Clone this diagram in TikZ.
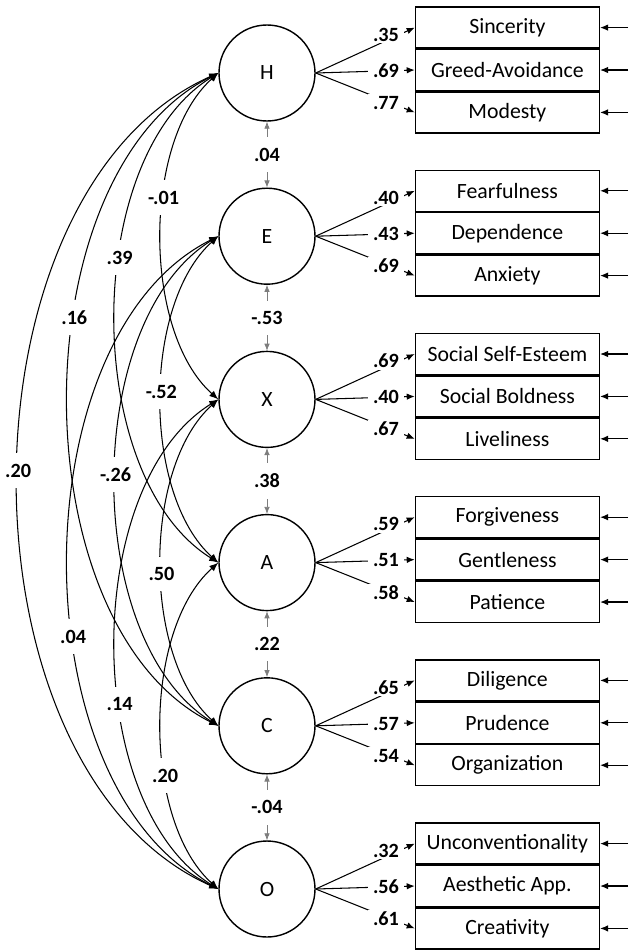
\documentclass[tikz,border=0pt]{standalone}
\usepackage{fontspec}
\setmainfont{Carlito}
\usepackage{tikz}
\usetikzlibrary{arrows.meta,positioning}
\definecolor{fGray}{RGB}{125,125,125}
\tikzset{
factor/.style={circle,draw,thick,minimum size=1.92cm,inner sep=0pt,font=\fontsize{12.4}{14}\selectfont},
facet/.style={rectangle,draw,thick,minimum width=3.68cm,minimum height=0.82cm,inner sep=0pt,font=\fontsize{12.4}{14}\selectfont},
coef/.style={fill=white,text=black,font=\bfseries\fontsize{11.5}{13}\selectfont,inner xsep=1.5pt,inner ysep=6pt},
loading/.style={-{Latex[length=1.6mm,width=1.3mm]},semithick},
resid/.style={-{Latex[length=1.6mm,width=1.3mm]},semithick},
corr/.style={{Latex[length=1.4mm,width=1.1mm]}-{Latex[length=1.4mm,width=1.1mm]},fGray},
cov/.style={{Latex[length=1.8mm,width=1.4mm]}-{Latex[length=1.8mm,width=1.4mm]},semithick}
}
\begin{document}
\begin{tikzpicture}
\useasboundingbox (0,0) rectangle (12.56,-19);
\coordinate (rim) at (12.56,0);
% six factors, each with three facet boxes
\foreach \f/\i/\ta/\tb/\tc/\la/\lb/\lc in {
  H/0/Sincerity/Greed-Avoidance/Modesty/.35/.69/.77,
  E/1/Fearfulness/Dependence/Anxiety/.40/.43/.69,
  X/2/Social Self-Esteem/Social Boldness/Liveliness/.69/.40/.67,
  A/3/Forgiveness/Gentleness/Patience/.59/.51/.58,
  C/4/Diligence/Prudence/Organization/.65/.57/.54,
  O/5/Unconventionality/Aesthetic App./Creativity/.32/.56/.61}{
\node[factor] (\f) at (5.34,{-1.46-3.264*\i}) {\f};
\node[facet,right=1.98cm of \f,yshift=1.7pt] (\f2) {\tb};
\node[facet,above=0pt of \f2] (\f1) {\ta};
\node[facet,below=0pt of \f2] (\f3) {\tc};
\draw[loading] (\f.east) -- node[coef,pos=.71,inner ysep=1pt,inner xsep=3pt,yshift=3.5pt]{\la} (\f1.west);
\draw[loading] (\f.east) -- node[coef,pos=.71,inner ysep=1pt,inner xsep=3pt]{\lb} (\f2.west);
\draw[loading] (\f.east) -- node[coef,pos=.71,inner ysep=1pt,inner xsep=3pt,yshift=-1pt]{\lc} (\f3.west);
\draw[resid] (\f1.east -| rim) -- (\f1.east);
\draw[resid] (\f2.east -| rim) -- (\f2.east);
\draw[resid] (\f3.east -| rim) -- (\f3.east);
}
% neighbouring factors
\foreach \p/\q/\v in {H/E/.04,E/X/-.53,X/A/.38,A/C/.22,C/O/-.04}
  \draw[corr] (\p.south) -- node[coef]{\v} (\q.north);
% the other pairs, bent round the left
\foreach \p/\q/\a/\b/\t/\v in {H/X/1.52/1.36/.40/-.01,H/A/2.74/1.7/.40/.39,H/C/4.0/2.0/.40/.16,H/O/5.34/2.38/.49/.20,
  E/A/1.52/1.36/.48/-.52,E/C/2.74/1.7/.49/-.26,E/O/4.0/2.0/.59/.04,
  X/C/1.52/1.36/.53/.50,X/O/2.74/1.7/.60/.14,A/O/1.52/1.36/.63/.20}
  \draw[cov] (\p.west) .. controls +(-\a,-\b) and +(-\a,\b) .. (\q.west) node[coef,pos=\t]{\v};
\end{tikzpicture}
\end{document}
